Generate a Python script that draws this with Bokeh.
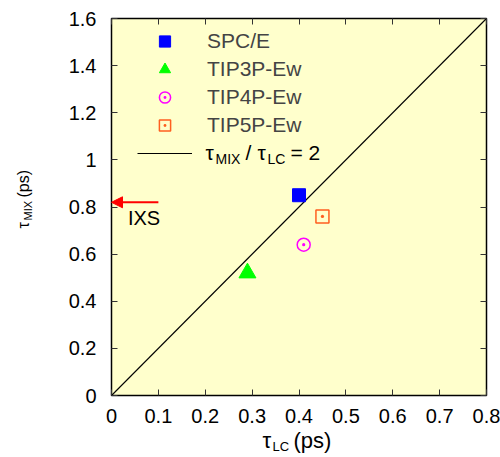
import math
from bokeh.plotting import figure
from bokeh.models import (Range1d, FixedTicker, LinearAxis, Label, Arrow, NormalHead,
                          Legend, LegendItem, CustomJSTickFormatter, ColumnDataSource)
from bokeh.embed import file_html
from bokeh.resources import INLINE

# ---------------- data ----------------
models = ["SPC/E", "TIP3P-Ew", "TIP4P-Ew", "TIP5P-Ew"]
tau_lc = [0.40, 0.29, 0.41, 0.45]      # ps
tau_mix = [0.85, 0.52, 0.64, 0.76]     # ps
ratio_x = [0.0, 0.8]
ratio_y = [0.0, 1.6]                   # tau_MIX / tau_LC = 2
ixs_arrow_x = [0.1, 0.0]
ixs_tau_mix = 0.82
ixs_label_pos = [0.035, 0.755]
x_lim = [0.0, 0.8]
y_lim = [0.0, 1.6]
x_ticks = [0, 0.1, 0.2, 0.3, 0.4, 0.5, 0.6, 0.7, 0.8]
x_tick_labels = ["0", "0.1", "0.2", "0.3", "0.4", "0.5", "0.6", "0.7", "0.8"]
y_ticks = [0, 0.2, 0.4, 0.6, 0.8, 1.0, 1.2, 1.4, 1.6]
y_tick_labels = ["0", "0.2", "0.4", "0.6", "0.8", "1", "1.2", "1.4", "1.6"]

FONT = "Liberation Sans"
BG = "#FFFFCC"

# ---------------- layout (pixels) ----------------
W, H = 500, 457
L, R, T, B = 111, 486, 18, 395          # plot box inside the canvas
xppu = (R - L) / (x_lim[1] - x_lim[0])
yppu = (B - T) / (y_lim[1] - y_lim[0])
x_range = Range1d(x_lim[0] - L / xppu, x_lim[1] + (W - R) / xppu)
y_range = Range1d(y_lim[0] - (H - B) / yppu, y_lim[1] + T / yppu)

p = figure(width=W, height=H, min_border=0,
           x_range=x_range, y_range=y_range,
           output_backend="svg", toolbar_location=None,
           background_fill_color="white", border_fill_color="white",
           x_axis_location=None, y_axis_location=None)
p.title.visible = False
p.grid.visible = False
p.outline_line_color = None

# plot area
p.quad(left=[x_lim[0]], right=[x_lim[1]], bottom=[y_lim[0]], top=[y_lim[1]],
       fill_color=BG, line_color="black", line_width=1.5)

fmt_js = "return String(Math.round(tick*10)/10)"
blank_js = "return ''"


def make_axis(ticks, labels, loc, bounds, show_labels, standoff):
    ax = LinearAxis(ticker=FixedTicker(ticks=ticks), fixed_location=loc, bounds=bounds,
                    formatter=CustomJSTickFormatter(code=fmt_js if show_labels else blank_js))
    if show_labels:
        ax.major_label_overrides = dict(zip(ticks, labels))
    ax.major_tick_in = 6
    ax.major_tick_out = 0
    ax.minor_tick_in = 0
    ax.minor_tick_out = 0
    ax.major_tick_line_color = "#333333"
    ax.axis_line_color = None
    ax.major_label_text_font = FONT
    ax.major_label_text_color = "black"
    ax.major_label_text_font_size = "20px"
    ax.major_label_standoff = standoff
    return ax


p.add_layout(make_axis(x_ticks, x_tick_labels, y_lim[0], tuple(x_lim), True, 13), "below")
p.add_layout(make_axis(y_ticks, y_tick_labels, x_lim[0], tuple(y_lim), True, 15), "left")
p.add_layout(make_axis(x_ticks, x_tick_labels, y_lim[1], tuple(x_lim), False, 0), "above")
p.add_layout(make_axis(y_ticks, y_tick_labels, x_lim[1], tuple(y_lim), False, 0), "right")

# ratio line
r_line = p.line(ratio_x, ratio_y, line_color="black", line_width=1.1)

# data points
src = [ColumnDataSource(dict(x=[tau_lc[i]], y=[tau_mix[i]])) for i in range(4)]
r0 = p.scatter("x", "y", source=src[0], marker="square", size=13,
               fill_color="#0000FF", line_color="#0000FF")
r1 = p.scatter("x", "y", source=src[1], marker="triangle", size=17,
               fill_color="#00FF00", line_color="#00FF00")
r2 = p.scatter("x", "y", source=src[2], marker="circle_dot", size=13,
               fill_color=None, line_color="#FF00FF", line_width=1.5)
r3 = p.scatter("x", "y", source=src[3], marker="square_dot", size=13,
               fill_color=None, line_color="#FF5F1F", line_width=1.5)

# IXS arrow
p.add_layout(Arrow(end=NormalHead(size=11, fill_color="red", line_color="red"),
                   x_start=ixs_arrow_x[0], y_start=ixs_tau_mix,
                   x_end=ixs_arrow_x[1], y_end=ixs_tau_mix,
                   line_color="red", line_width=2))
p.add_layout(Label(x=ixs_label_pos[0], y=ixs_label_pos[1], text="IXS",
                   text_font=FONT, text_font_size="20px", text_baseline="middle",
                   text_color="black"))

# legend
ROW = 28
leg_h = 8 + 5 * ROW
legend = Legend(items=[LegendItem(label=models[0], renderers=[r0]),
                       LegendItem(label=models[1], renderers=[r1]),
                       LegendItem(label=models[2], renderers=[r2]),
                       LegendItem(label=models[3], renderers=[r3]),
                       LegendItem(label=" ", renderers=[r_line])],
                location=(L + 22, H - (T + 5) - leg_h), padding=4, spacing=0,
                glyph_height=ROW, glyph_width=55, label_standoff=15,
                label_text_font=FONT, label_text_font_size="21px",
                label_height=20,
                background_fill_alpha=0, border_line_alpha=0)
p.add_layout(legend)


def label(txt, x, y, size, angle=0.0):
    p.add_layout(Label(x=x, y=y, x_units="screen", y_units="screen", text=txt,
                       angle=angle, text_font=FONT, text_font_size=size,
                       text_baseline="middle", text_align="left", text_color="black"))


# subscripted legend text for the ratio line
ly = H - (T + 134)
for txt, lx, dy, size in [("τ", 94, 0, "21px"), ("MIX", 104, -6, "14px"),
                          ("/", 134, 0, "21px"), ("τ", 146, 0, "21px"),
                          ("LC", 156, -6, "14px"), ("= 2", 179, 0, "21px")]:
    label(txt, L + lx, ly + dy, size)

# x-axis title: tau_LC (ps)
for txt, lx, dy, size in [("τ", 262, 0, "22px"), ("LC", 272, -6, "13px"),
                          ("(ps)", 293, 0, "22px")]:
    label(txt, lx, 17 + dy, size)

# y-axis title: tau_MIX (ps), rotated
for txt, yy, dx, size in [("τ", 229, 0, "16px"), ("MIX", 237, 4, "11px"),
                          ("(ps)", 260, 0, "16px")]:
    label(txt, 23 + dx, yy, size, angle=math.pi / 2)

open("out.html", "w").write(file_html(p, INLINE))
